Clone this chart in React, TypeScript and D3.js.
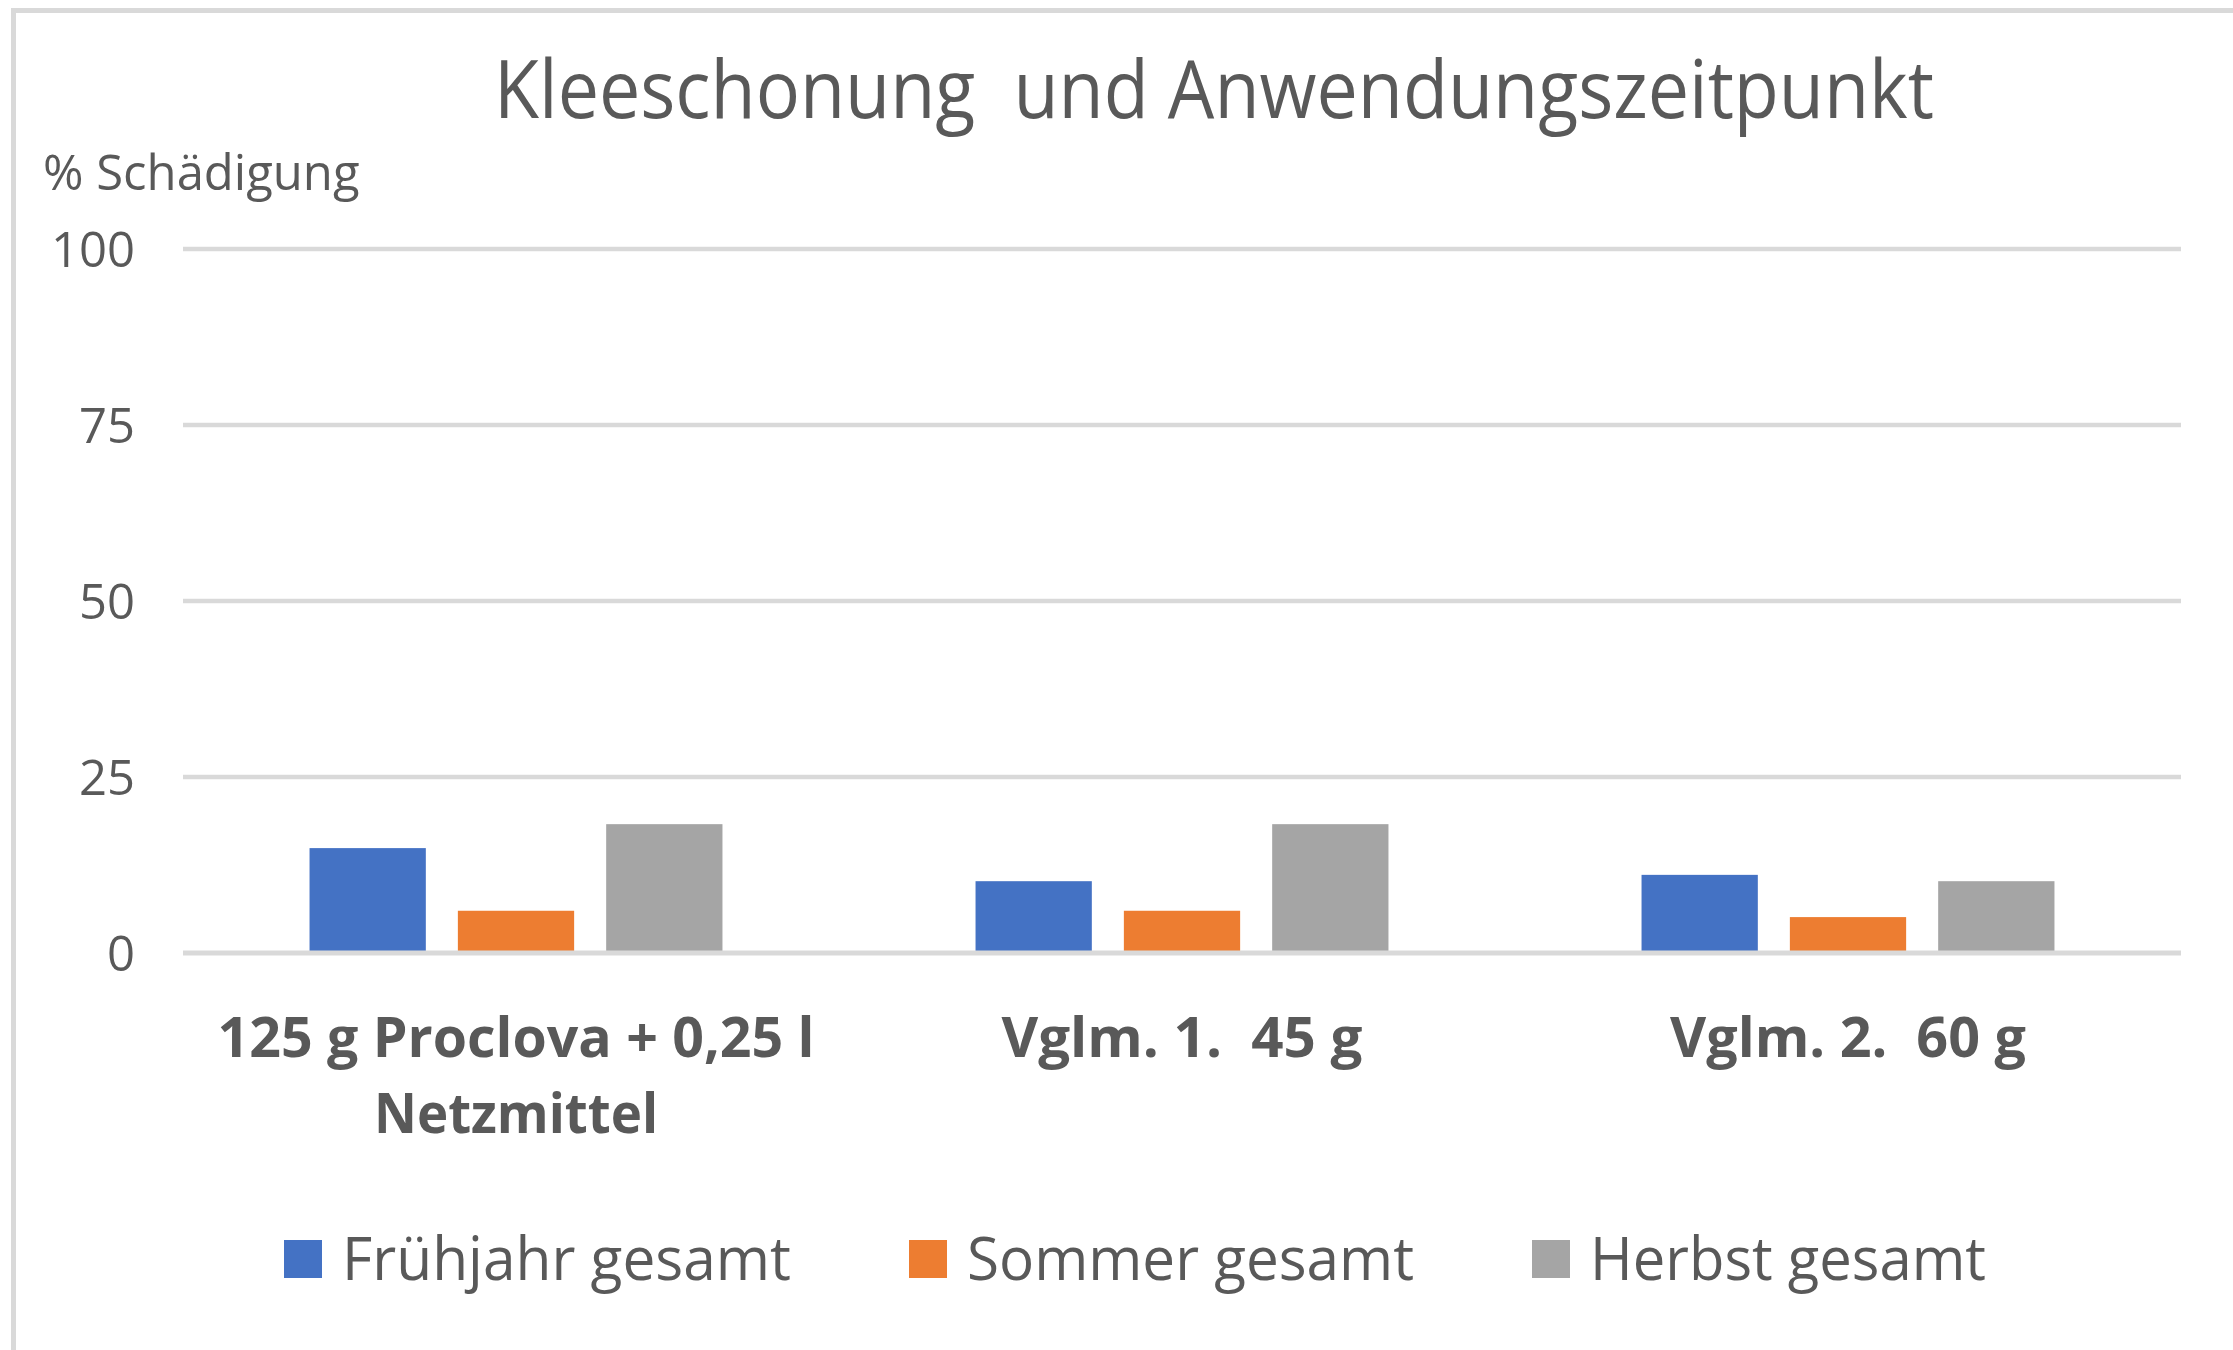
import * as d3 from 'd3'
import { useEffect, useRef } from 'react'

const categories = ['125 g Proclova + 0,25 l|Netzmittel', 'Vglm. 1.  45 g', 'Vglm. 2.  60 g']
const seriesNames = ['Frühjahr gesamt', 'Sommer gesamt', 'Herbst gesamt']
const fruehjahr = [14.9, 10.2, 11.1]
const sommer = [6, 6, 5.1]
const herbst = [18.3, 18.3, 10.2]
const yTicks = [0, 25, 50, 75, 100]
const colors = ['#4472C4', '#ED7D31', '#A5A5A5']

const WIDTH = 2233
const HEIGHT = 1350
const PLOT = { LEFT: 183, RIGHT: 2181, TOP: 249, BOTTOM: 953 }
const TEXT = '#595959'
const GRID = '#D9D9D9'
const FONT = '"Open Sans", sans-serif'

export default function App() {
  const ref = useRef<SVGSVGElement>(null)

  useEffect(() => {
    const svg = d3.select(ref.current)
    svg.selectAll('*').remove()

    const values = [fruehjahr, sommer, herbst]
    const rows = categories.map((c, i) => ({
      name: c,
      vals: seriesNames.map((s, j) => ({ key: s, value: values[j][i], idx: j })),
    }))

    const x0 = d3.scaleBand().domain(categories).range([PLOT.LEFT, PLOT.RIGHT]).padding(0)
    const bw = x0.bandwidth()
    const x1 = d3.scaleBand().domain(seriesNames).range([bw * 0.19, bw * 0.81]).paddingInner(0.216)
    const y = d3.scaleLinear().domain([0, 100]).range([PLOT.BOTTOM, PLOT.TOP])

    // outer frame
    svg.append('rect')
      .attr('x', 13.5).attr('y', 10.5)
      .attr('width', WIDTH + 50).attr('height', HEIGHT + 50)
      .attr('fill', 'white').attr('stroke', GRID).attr('stroke-width', 5)

    // title
    svg.append('text')
      .attr('x', 1214).attr('y', 118)
      .attr('text-anchor', 'middle')
      .attr('fill', TEXT)
      .style('font-family', FONT).style('font-size', '80px')
      .style('white-space', 'pre')
      .attr('textLength', 1440).attr('lengthAdjust', 'spacingAndGlyphs')
      .text('Kleeschonung  und Anwendungszeitpunkt')

    // y title
    svg.append('text')
      .attr('x', 43).attr('y', 190)
      .attr('fill', TEXT)
      .style('font-family', FONT).style('font-size', '49px')
      .text('% Schädigung')

    // gridlines (non-zero)
    svg.append('g').selectAll('line')
      .data(yTicks.filter((t) => t !== 0))
      .enter().append('line')
      .attr('x1', PLOT.LEFT).attr('x2', PLOT.RIGHT)
      .attr('y1', (d) => y(d)).attr('y2', (d) => y(d))
      .attr('stroke', GRID).attr('stroke-width', 4.5)

    // y tick labels
    svg.append('g').selectAll('text')
      .data(yTicks)
      .enter().append('text')
      .attr('x', 135).attr('y', (d) => y(d))
      .attr('dy', '0.36em')
      .attr('text-anchor', 'end')
      .attr('fill', TEXT)
      .style('font-family', FONT).style('font-size', '49px')
      .text((d) => d)

    // bars
    svg.append('g').selectAll('g')
      .data(rows)
      .enter().append('g')
      .attr('transform', (d) => `translate(${x0(d.name)},0)`)
      .selectAll('rect')
      .data((d) => d.vals)
      .enter().append('rect')
      .attr('x', (d) => x1(d.key) as number)
      .attr('y', (d) => y(d.value))
      .attr('width', x1.bandwidth())
      .attr('height', (d) => y(0) - y(d.value))
      .attr('fill', (d) => colors[d.idx])

    // zero axis line
    svg.append('line')
      .attr('x1', PLOT.LEFT).attr('x2', PLOT.RIGHT)
      .attr('y1', y(0)).attr('y2', y(0))
      .attr('stroke', GRID).attr('stroke-width', 5)

    // category labels
    const catLengths: Record<string, number[]> = {
      [categories[0]]: [597, 284],
      [categories[1]]: [361],
      [categories[2]]: [356],
    }
    categories.forEach((c) => {
      const lines = c.split('|')
      lines.forEach((ln, k) => {
        svg.append('text')
          .attr('x', (x0(c) as number) + bw / 2)
          .attr('y', 1057 + k * 76)
          .attr('text-anchor', 'middle')
          .attr('fill', TEXT)
          .style('font-family', FONT).style('font-size', '56px').style('font-weight', 700)
          .style('white-space', 'pre')
          .attr('textLength', catLengths[c][k]).attr('lengthAdjust', 'spacingAndGlyphs')
          .text(ln)
      })
    })

    // legend
    const legendX = [284, 909, 1532]
    const legendLen = [449, 447, 396]
    const lg = svg.append('g').selectAll('g')
      .data(seriesNames)
      .enter().append('g')
      .attr('transform', (d, i) => `translate(${legendX[i]},1240)`)
    lg.append('rect')
      .attr('width', 38).attr('height', 38)
      .attr('fill', (d, i) => colors[i])
    lg.append('text')
      .attr('x', 58).attr('y', 40)
      .attr('fill', TEXT)
      .style('font-family', FONT).style('font-size', '61px')
      .attr('textLength', (d, i) => legendLen[i]).attr('lengthAdjust', 'spacingAndGlyphs')
      .text((d) => d)
  }, [])

  return (
    <div style={{ position: 'absolute', left: 0, top: 0 }}>
      <svg ref={ref} width={WIDTH} height={HEIGHT} style={{ display: 'block' }} />
    </div>
  )
}
